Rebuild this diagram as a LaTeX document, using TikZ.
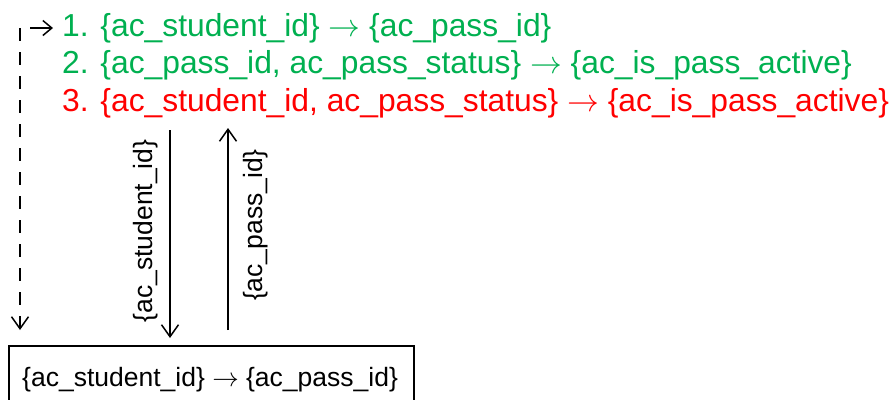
\documentclass[tikz,border=0pt]{standalone}
\usepackage{graphicx}
\usepackage{fontspec}
\setmainfont{Liberation Sans}
\usetikzlibrary{arrows.meta}
\definecolor{fdgreen}{RGB}{0,176,80}
\definecolor{fdred}{RGB}{255,0,0}
\newcommand{\fdarrow}{\resizebox{1em}{!}{$\rightarrow$}}
\begin{document}
\begin{tikzpicture}[x=1pt,y=-1pt,
  fdline/.style={anchor=base west,inner sep=0pt,font=\fontsize{31.8}{36}\selectfont},
  lbl/.style={rotate=90,inner sep=0pt,font=\fontsize{26.5}{30}\selectfont},
  conn/.style={line width=1.5pt,-{Straight Barb[length=12pt,width=17pt,line width=1.5pt]}},
  sconn/.style={line width=1.5pt,-{Straight Barb[length=9pt,width=15pt,line width=1.5pt]}},
  dconn/.style={conn,dash pattern=on 13pt off 11pt}]
\useasboundingbox (0,0) rectangle (894,399);
\node[fdline,text=fdgreen] (fd1) at (62,36) {1. \{ac\_student\_id\} \fdarrow{} \{ac\_pass\_id\}};
\node[fdline,text=fdgreen] (fd2) at (62,73) {2. \{ac\_pass\_id, ac\_pass\_status\} \fdarrow{} \{ac\_is\_pass\_active\}};
\node[fdline,text=fdred] (fd3) at (62,111) {3. \{ac\_student\_id, ac\_pass\_status\} \fdarrow{} \{ac\_is\_pass\_active\}};
\node[draw,line width=1.5pt,minimum width=405pt,minimum height=80pt,anchor=north west,inner sep=0pt] (box) at (8,345) {};
\node[anchor=base west,inner sep=0pt,font=\fontsize{26.5}{30}\selectfont] (boxtxt) at (22,386) {\{ac\_student\_id\} \fdarrow{} \{ac\_pass\_id\}};
\coordinate (dtop) at (170,130);
\coordinate (dbot) at (170,338);
\coordinate (utop) at (228,128);
\coordinate (ubot) at (228,330);
\coordinate (ltop) at (20,28);
\coordinate (lbot) at (20,330);
\coordinate (rs) at (30,28);
\coordinate (re) at (53,28);
\draw[conn] (dtop) -- (dbot);
\draw[conn] (ubot) -- (utop);
\node[lbl] (l1) at (146,231) {\{ac\_student\_id\}};
\node[lbl] (l2) at (256,225) {\{ac\_pass\_id\}};
\draw[dconn] (ltop) -- (lbot);
\draw[sconn] (rs) -- (re);
\end{tikzpicture}
\end{document}
